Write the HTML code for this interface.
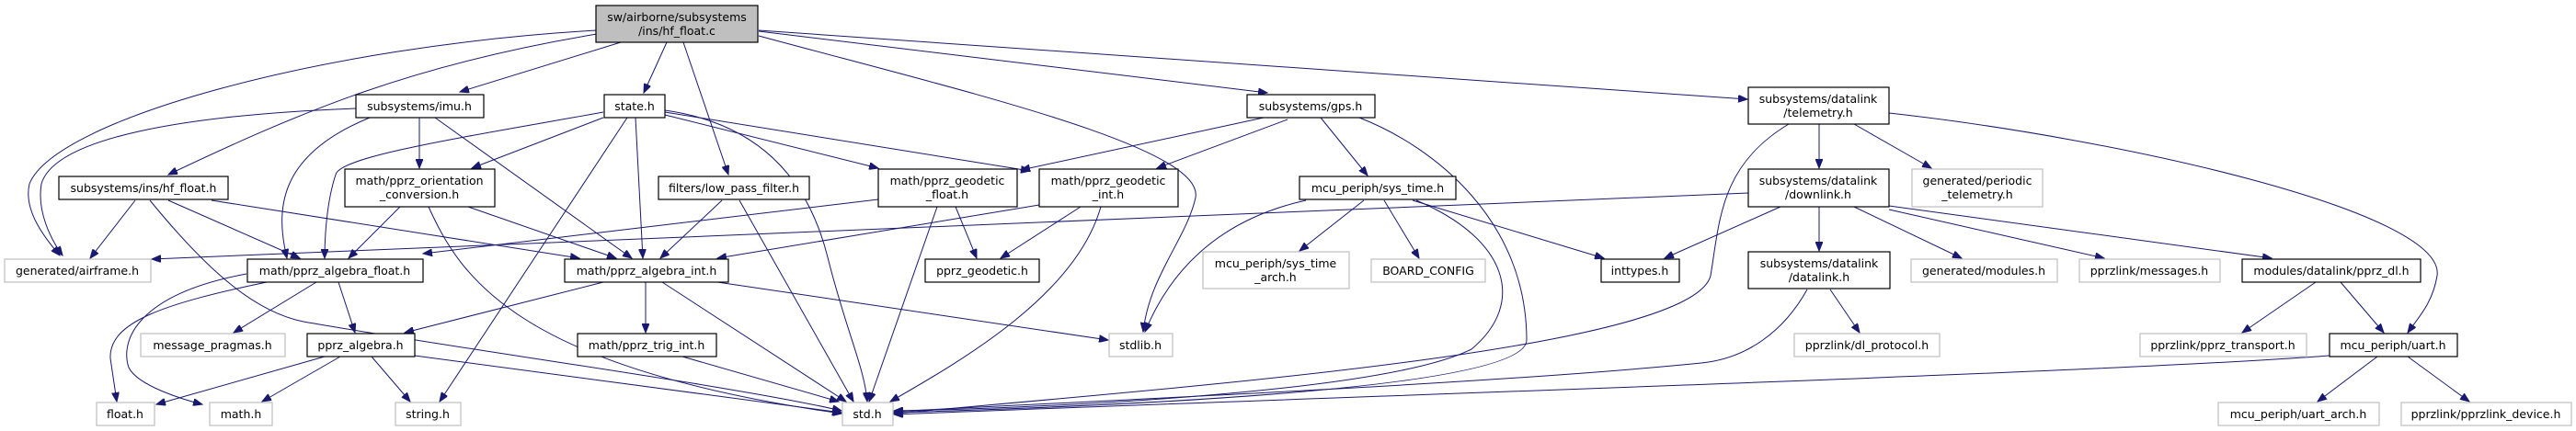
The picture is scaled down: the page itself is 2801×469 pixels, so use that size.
<!DOCTYPE html>
<html><head><meta charset="utf-8"><style>
html,body{margin:0;padding:0;background:#fff;}
svg{display:block;}
text{font-family:"DejaVu Sans","Liberation Sans",sans-serif;font-size:12.5px;fill:#000;text-anchor:middle;}
.b{fill:#fff;stroke:#000;stroke-width:1.2;}
.g{fill:#fff;stroke:#bfbfbf;stroke-width:1.2;}
.m{fill:#bfbfbf;stroke:#000;stroke-width:1.2;}
path{fill:none;stroke:#191970;stroke-width:1;}
</style></head><body>
<svg width="2801" height="469" viewBox="0 0 2801 469" xmlns="http://www.w3.org/2000/svg">
<defs><marker id="a" markerWidth="11" markerHeight="8" refX="10" refY="4" orient="auto" markerUnits="userSpaceOnUse"><path d="M0,0 L10,4 L0,8 Z" style="fill:#191970;stroke:#191970"/></marker></defs>
<g marker-end="url(#a)">
<path d="M649,33 C350,50 60,130 32,200 C25,230 50,260 65,278"/>
<path d="M387,118 C200,125 60,150 45,200 C40,230 55,260 68,278"/>
<path d="M649,37 C450,70 330,120 183,190"/>
<path d="M675,46 L500,100"/>
<path d="M725,46 L700,101"/>
<path d="M743,46 L792,190"/>
<path d="M825,39 C1050,100 1310,160 1300,215 C1290,260 1250,300 1243,361"/>
<path d="M825,34 L1378,101"/>
<path d="M825,33 L1900,108"/>
<path d="M402,128 C300,170 300,230 312,281"/>
<path d="M456,128 L456,183"/>
<path d="M473,128 L687,281"/>
<path d="M656,122 C500,150 370,170 365,190 C355,220 353,260 353,281"/>
<path d="M656,128 L513,183"/>
<path d="M682,128 L478,437"/>
<path d="M691,128 L699,281"/>
<path d="M723,120 C830,135 880,200 900,280 C920,360 940,400 943,437"/>
<path d="M723,125 L955,183"/>
<path d="M723,122 L1120,186"/>
<path d="M147,218 L98,281"/>
<path d="M183,218 L326,281"/>
<path d="M230,218 L630,281"/>
<path d="M163,218 C230,300 280,340 330,350 C500,380 800,420 915,447"/>
<path d="M435,225 L379,281"/>
<path d="M509,225 L670,281"/>
<path d="M466,225 C500,300 560,400 915,450"/>
<path d="M785,218 L718,281"/>
<path d="M804,218 L928,437"/>
<path d="M955,217 L460,276"/>
<path d="M1039,225 L1062,281"/>
<path d="M1019,225 L945,437"/>
<path d="M1130,223 L780,281"/>
<path d="M1175,225 L1088,281"/>
<path d="M1197,225 C1170,320 1050,390 968,437"/>
<path d="M1374,128 L1110,185"/>
<path d="M1400,130 L1258,183"/>
<path d="M1436,128 L1487,191"/>
<path d="M1478,128 C1560,160 1660,240 1660,370 C1660,430 1100,445 972,449"/>
<path d="M290,307 C180,330 118,350 120,390 L127,437"/>
<path d="M268,298 C150,320 130,370 140,400 C150,420 200,435 220,440"/>
<path d="M344,307 L254,362"/>
<path d="M368,307 L386,362"/>
<path d="M656,307 L440,362"/>
<path d="M702,307 L702,362"/>
<path d="M720,307 L920,437"/>
<path d="M780,307 L1205,370"/>
<path d="M353,388 L170,440"/>
<path d="M370,388 L285,437"/>
<path d="M404,388 L446,437"/>
<path d="M451,387 L915,449"/>
<path d="M742,388 L912,437"/>
<path d="M1420,218 C1320,240 1270,300 1245,361"/>
<path d="M1901,210 L165,282"/>
<path d="M1483,218 L1413,273"/>
<path d="M1505,218 L1543,281"/>
<path d="M1536,218 L1744,281"/>
<path d="M1540,218 C1640,260 1660,330 1600,380 C1500,430 1100,445 972,447"/>
<path d="M1978,135 L1978,183"/>
<path d="M2016,135 L2100,183"/>
<path d="M2054,123 C2300,150 2660,230 2650,300 C2645,330 2630,345 2618,362"/>
<path d="M1945,135 C1870,180 1870,240 1860,300 C1840,380 1300,420 972,450"/>
<path d="M1936,225 L1810,281"/>
<path d="M1978,225 L1978,273"/>
<path d="M2016,225 L2133,281"/>
<path d="M2054,228 L2288,281"/>
<path d="M2054,224 L2470,281"/>
<path d="M1990,315 L2022,362"/>
<path d="M1965,315 C1940,360 1900,390 1850,395 C1600,420 1100,440 972,448"/>
<path d="M2518,307 L2438,362"/>
<path d="M2545,307 L2592,362"/>
<path d="M2533,387 C2300,405 1500,430 972,451"/>
<path d="M2585,388 L2520,437"/>
<path d="M2618,388 L2685,437"/>
</g>
<rect class="m" x="648" y="6" width="176" height="40"/><text x="736" y="23">sw/airborne/subsystems</text><text x="736" y="38">/ins/hf_float.c</text>
<rect class="b" x="387" y="103" width="139" height="25"/><text x="456" y="120">subsystems/imu.h</text>
<rect class="b" x="657" y="103" width="66" height="25"/><text x="690" y="120">state.h</text>
<rect class="b" x="1356" y="103" width="139" height="25"/><text x="1425" y="120">subsystems/gps.h</text>
<rect class="b" x="1901" y="95" width="153" height="40"/><text x="1977" y="112">subsystems/datalink</text><text x="1977" y="127">/telemetry.h</text>
<rect class="b" x="64" y="192" width="184" height="25"/><text x="156" y="209">subsystems/ins/hf_float.h</text>
<rect class="b" x="375" y="184" width="163" height="41"/><text x="456" y="201">math/pprz_orientation</text><text x="456" y="216">_conversion.h</text>
<rect class="b" x="716" y="192" width="164" height="25"/><text x="798" y="209">filters/low_pass_filter.h</text>
<rect class="b" x="955" y="184" width="151" height="41"/><text x="1030" y="201">math/pprz_geodetic</text><text x="1030" y="216">_float.h</text>
<rect class="b" x="1130" y="184" width="151" height="41"/><text x="1205" y="201">math/pprz_geodetic</text><text x="1205" y="216">_int.h</text>
<rect class="b" x="1413" y="192" width="170" height="25"/><text x="1498" y="209">mcu_periph/sys_time.h</text>
<rect class="b" x="1901" y="184" width="153" height="41"/><text x="1977" y="201">subsystems/datalink</text><text x="1977" y="216">/downlink.h</text>
<rect class="g" x="2079" y="184" width="142" height="41"/><text x="2150" y="201">generated/periodic</text><text x="2150" y="216">_telemetry.h</text>
<rect class="g" x="5" y="282" width="159" height="25"/><text x="84" y="299">generated/airframe.h</text>
<rect class="b" x="269" y="282" width="191" height="25"/><text x="364" y="299">math/pprz_algebra_float.h</text>
<rect class="b" x="614" y="282" width="178" height="25"/><text x="703" y="299">math/pprz_algebra_int.h</text>
<rect class="b" x="1006" y="282" width="124" height="25"/><text x="1068" y="299">pprz_geodetic.h</text>
<rect class="g" x="1308" y="274" width="159" height="40"/><text x="1387" y="291">mcu_periph/sys_time</text><text x="1387" y="306">_arch.h</text>
<rect class="g" x="1491" y="282" width="124" height="25"/><text x="1553" y="299">BOARD_CONFIG</text>
<rect class="b" x="1741" y="282" width="85" height="25"/><text x="1783" y="299">inttypes.h</text>
<rect class="b" x="1901" y="274" width="154" height="40"/><text x="1978" y="291">subsystems/datalink</text><text x="1978" y="306">/datalink.h</text>
<rect class="g" x="2078" y="282" width="159" height="25"/><text x="2157" y="299">generated/modules.h</text>
<rect class="g" x="2261" y="282" width="153" height="25"/><text x="2337" y="299">pprzlink/messages.h</text>
<rect class="b" x="2438" y="282" width="194" height="25"/><text x="2535" y="299">modules/datalink/pprz_dl.h</text>
<rect class="g" x="153" y="363" width="157" height="25"/><text x="231" y="380">message_pragmas.h</text>
<rect class="b" x="334" y="363" width="117" height="25"/><text x="392" y="380">pprz_algebra.h</text>
<rect class="b" x="628" y="363" width="151" height="25"/><text x="703" y="380">math/pprz_trig_int.h</text>
<rect class="g" x="1206" y="363" width="69" height="25"/><text x="1240" y="380">stdlib.h</text>
<rect class="g" x="1951" y="363" width="158" height="25"/><text x="2030" y="380">pprzlink/dl_protocol.h</text>
<rect class="g" x="2327" y="363" width="181" height="25"/><text x="2417" y="380">pprzlink/pprz_transport.h</text>
<rect class="b" x="2533" y="363" width="139" height="25"/><text x="2602" y="380">mcu_periph/uart.h</text>
<rect class="g" x="105" y="438" width="63" height="25"/><text x="136" y="455">float.h</text>
<rect class="g" x="228" y="438" width="68" height="25"/><text x="262" y="455">math.h</text>
<rect class="g" x="430" y="438" width="71" height="25"/><text x="465" y="455">string.h</text>
<rect class="g" x="916" y="438" width="55" height="25"/><text x="943" y="455">std.h</text>
<rect class="g" x="2412" y="438" width="175" height="25"/><text x="2499" y="455">mcu_periph/uart_arch.h</text>
<rect class="g" x="2611" y="438" width="185" height="25"/><text x="2703" y="455">pprzlink/pprzlink_device.h</text>
</svg>
</body></html>
